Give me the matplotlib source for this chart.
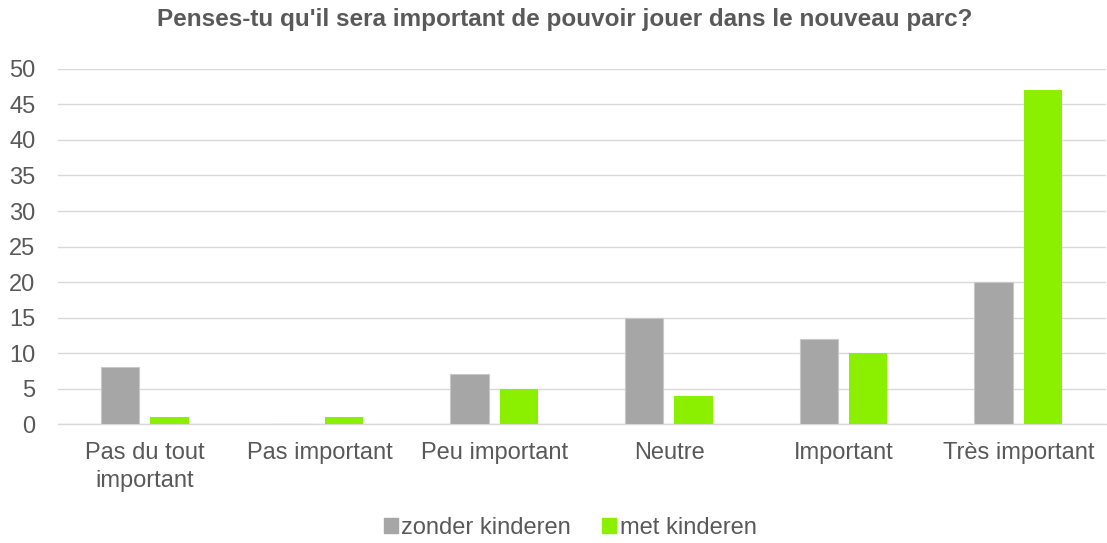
import numpy as np
import matplotlib.pyplot as plt
from matplotlib.patches import Patch

categories = ['Pas du tout\nimportant', 'Pas important', 'Peu important', 'Neutre', 'Important', 'Très important']
zonder = [8, 0, 7, 15, 12, 20]
met = [1, 1, 5, 4, 10, 47]

plt.rcParams['font.family'] = ['Liberation Sans', 'DejaVu Sans']
txt = '#595959'

fig = plt.figure(figsize=(11.07, 5.43), dpi=100)
ax = fig.add_axes([0.052, 0.219, 0.947, 0.654])

x = np.arange(len(categories))
w = 0.22
ax.bar(x - 0.143, zonder, w, color='#A6A6A6', edgecolor='#C8C8C8', linewidth=0.8, zorder=3, label='zonder kinderen')
ax.bar(x + 0.14, met, w, color='#8AF000', zorder=3, label='met kinderen')

ax.set_xlim(-0.5, len(categories) - 0.5)
ax.set_ylim(0, 50)
ax.set_yticks(range(0, 51, 5))
ax.set_xticks(x)
ax.set_xticklabels(categories, fontsize=17, color=txt, linespacing=1.33)
ax.tick_params(axis='y', labelsize=17, labelcolor=txt, length=0, pad=16)
ax.tick_params(axis='x', length=0, pad=13)
ax.grid(axis='y', color='#D9D9D9', linewidth=1, zorder=0)
for s in ['top', 'right', 'left']:
    ax.spines[s].set_visible(False)
ax.spines['bottom'].set_color('#D9D9D9')
ax.spines['bottom'].set_linewidth(1)

fig.text(0.51, 0.965, "Penses-tu qu'il sera important de pouvoir jouer dans le nouveau parc?",
         ha='center', va='center', fontsize=17.5, fontweight='bold', color=txt)

handles = [Patch(color='#A6A6A6', label='zonder kinderen'), Patch(color='#8AF000', label='met kinderen')]
fig.legend(handles=handles, loc='center', bbox_to_anchor=(0.515, 0.028), ncol=2, frameon=False,
           fontsize=17, labelcolor=txt, handlelength=0.6, handleheight=0.6, handletextpad=0.15,
           columnspacing=1.3)

fig.savefig('out.png', dpi=100)
